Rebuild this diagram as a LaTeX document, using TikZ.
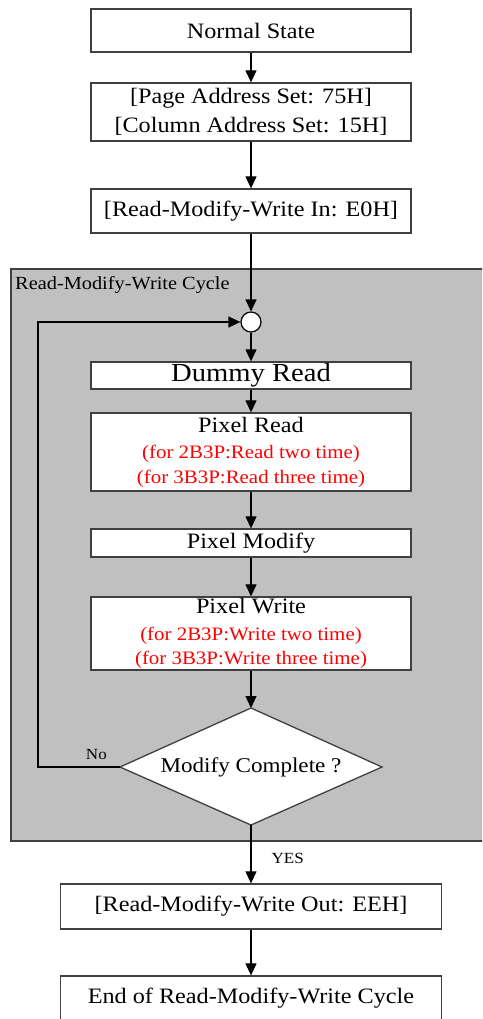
\documentclass[tikz,border=0pt]{standalone}
\usepackage{fontspec}
\setmainfont{Liberation Serif}[FakeStretch=1.1]
\usetikzlibrary{arrows.meta}
\definecolor{regiongray}{RGB}{192,192,192}
\definecolor{boxline}{RGB}{64,64,64}
\begin{document}
\begin{tikzpicture}[x=1pt,y=-1pt,
  stepbox/.style={draw=boxline,fill=white,line width=1.3pt,minimum width=320pt,inner sep=0pt,align=center,font=\fontsize{22}{29}\selectfont},
  widebox/.style={stepbox,minimum width=381pt},
  conn/.style={line width=1.2pt,-{Triangle[length=12pt,width=11pt]}},
  small/.style={font=\fontsize{15.5}{17}\selectfont},
]
\useasboundingbox (0,0) rectangle (482,1019);
\begin{scope}
\clip (0,0) rectangle (482,1019);
% region
\node[draw=boxline,fill=regiongray,line width=1.3pt,minimum width=475pt,minimum height=572pt,inner sep=0pt] (cyc) at (248.5,555) {};
\node[anchor=north west,inner sep=0pt,font=\fontsize{18.5}{20}\selectfont] (cyclbl) at (15,276) {Read-Modify-Write Cycle};

\node[stepbox,minimum height=43pt] (ns) at (251,30.5) {Normal State};
\node[stepbox,minimum height=58pt] (pa) at (251,112) {{[Page Address Set: 75H]}\\{[Column Address Set: 15H]}};
\node[stepbox,minimum height=44pt] (rin) at (251,211) {{[Read-Modify-Write In: E0H]}};

\node[draw=black,fill=white,circle,line width=1.2pt,minimum size=20pt,inner sep=0pt] (circ) at (251,322) {};

\node[stepbox,minimum height=27pt,font=\fontsize{26}{28}\selectfont] (dr) at (251,375.5) {Dummy Read};
\node[stepbox,minimum height=78pt] (pr) at (251,452) {Pixel Read\\[-3pt]{\fontsize{19}{25}\selectfont\color{red}(for 2B3P:Read two time)}\\[-4pt]{\fontsize{19}{25}\selectfont\color{red}(for 3B3P:Read three time)}};
\node[stepbox,minimum height=28pt] (pm) at (251,543) {Pixel Modify};
\node[stepbox,minimum height=73pt] (pw) at (251,633.5) {Pixel Write\\[-2pt]{\fontsize{19}{25}\selectfont\color{red}(for 2B3P:Write two time)}\\[-5pt]{\fontsize{19}{25}\selectfont\color{red}(for 3B3P:Write three time)}};

% diamond
\coordinate (dt) at (251,708);
\coordinate (dl) at (120,767);
\coordinate (dr2) at (382,767);
\coordinate (db) at (251,825);
\filldraw[fill=white,draw=boxline,line width=1.3pt] (dt) -- (dr2) -- (db) -- (dl) -- cycle;
\node[inner sep=0pt,font=\fontsize{21}{24}\selectfont] (dq) at (251,767) {Modify Complete ?};

\node[widebox,minimum height=45pt] (rout) at (251,906.5) {{[Read-Modify-Write Out: EEH]}};
\node[widebox,minimum height=44pt] (fin) at (251,998) {End of Read-Modify-Write Cycle};

% connectors
\draw[conn] (ns.south) -- (pa.north);
\draw[conn] (pa.south) -- (rin.north);
\draw[conn] (rin.south) -- (circ.north);
\draw[conn] (circ.south) -- (dr.north);
\draw[conn] (dr.south) -- (pr.north);
\draw[conn] (pr.south) -- (pm.north);
\draw[conn] (pm.south) -- (pw.north);
\draw[conn] (pw.south) -- (dt);
\coordinate (lc) at (38,767);
\draw[conn] (dl) -- (lc) |- (circ.west);
\node[small,anchor=south east,inner sep=0pt] (nolbl) at (107,760) {No};
\draw[conn] (db) -- node[small,right,inner sep=0pt,xshift=20pt,yshift=-4pt] (yeslbl) {YES} (rout.north);
\draw[conn] (rout.south) -- (fin.north);
\end{scope}
\end{tikzpicture}
\end{document}
